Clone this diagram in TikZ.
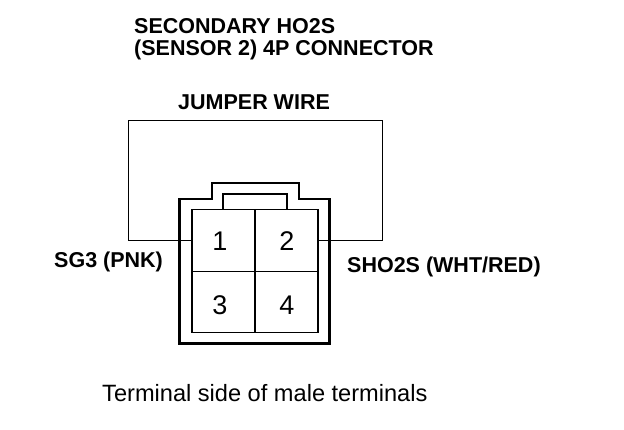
\documentclass[tikz,border=0pt]{standalone}
\usepackage{fontspec}
\setmainfont{Liberation Sans}
\usetikzlibrary{positioning}
\tikzset{
        cell/.style={rectangle, draw=black, line width=0.45mm, outer sep=0pt, inner sep=0pt, minimum width=63pt, minimum height=61.5pt},
        digit/.style={inner sep=0pt, font=\fontsize{27}{27}\selectfont},
        shell/.style={draw=black, line width=0.75mm, line join=miter},
        latch/.style={draw=black, line width=0.4mm},
        wire/.style={draw=black, line width=0.35mm},
        caption/.style={anchor=base west, inner sep=0pt, font=\fontsize{21.5}{24}\selectfont\bfseries},
        note/.style={anchor=base west, inner sep=0pt, font=\fontsize{23.6}{26}\selectfont}
          }
\begin{document}
\begin{tikzpicture}
        [x=1pt,y=-1pt]
        \useasboundingbox (0,0) rectangle (624,430);
        \node[cell] (t1) at (223.5,240.5) {};
        \node[cell, right=0pt of t1] (t2) {};
        \node[cell, below=0pt of t1] (t3) {};
        \node[cell, right=0pt of t3] (t4) {};
        \node[digit] (n1) at (220,241) {1};
        \node[digit] (n2) at (287,241) {2};
        \node[digit] (n3) at (220,305) {3};
        \node[digit] (n4) at (287,305) {4};
        \draw[shell] (179.5,199) -- (212,199) -- (212,183) -- (299,183) -- (299,199) -- (329.5,199)
          -- (329.5,343.5) -- (179.5,343.5) -- cycle;
        \draw[latch] (223,210) -- (223,194) -- (287,194) -- (287,210);
        \coordinate (cl) at (128.5,121);
        \coordinate (cr) at (382,121);
        \draw[wire] (t1.west) -| (cl) -- (cr) |- (t2.east);
        \node[caption] (title1) at (134,34) {SECONDARY HO2S};
        \node[caption] (title2) at (134,56) {(SENSOR 2) 4P CONNECTOR};
        \node[caption] (jumper) at (178,110) {JUMPER WIRE};
        \node[caption] (sg3) at (54,268) {SG3 (PNK)};
        \node[caption] (sho2s) at (347,273) {SHO2S (WHT/RED)};
        \node[note] (side) at (102,401.5) {Terminal side of male terminals};
\end{tikzpicture}
\end{document}
